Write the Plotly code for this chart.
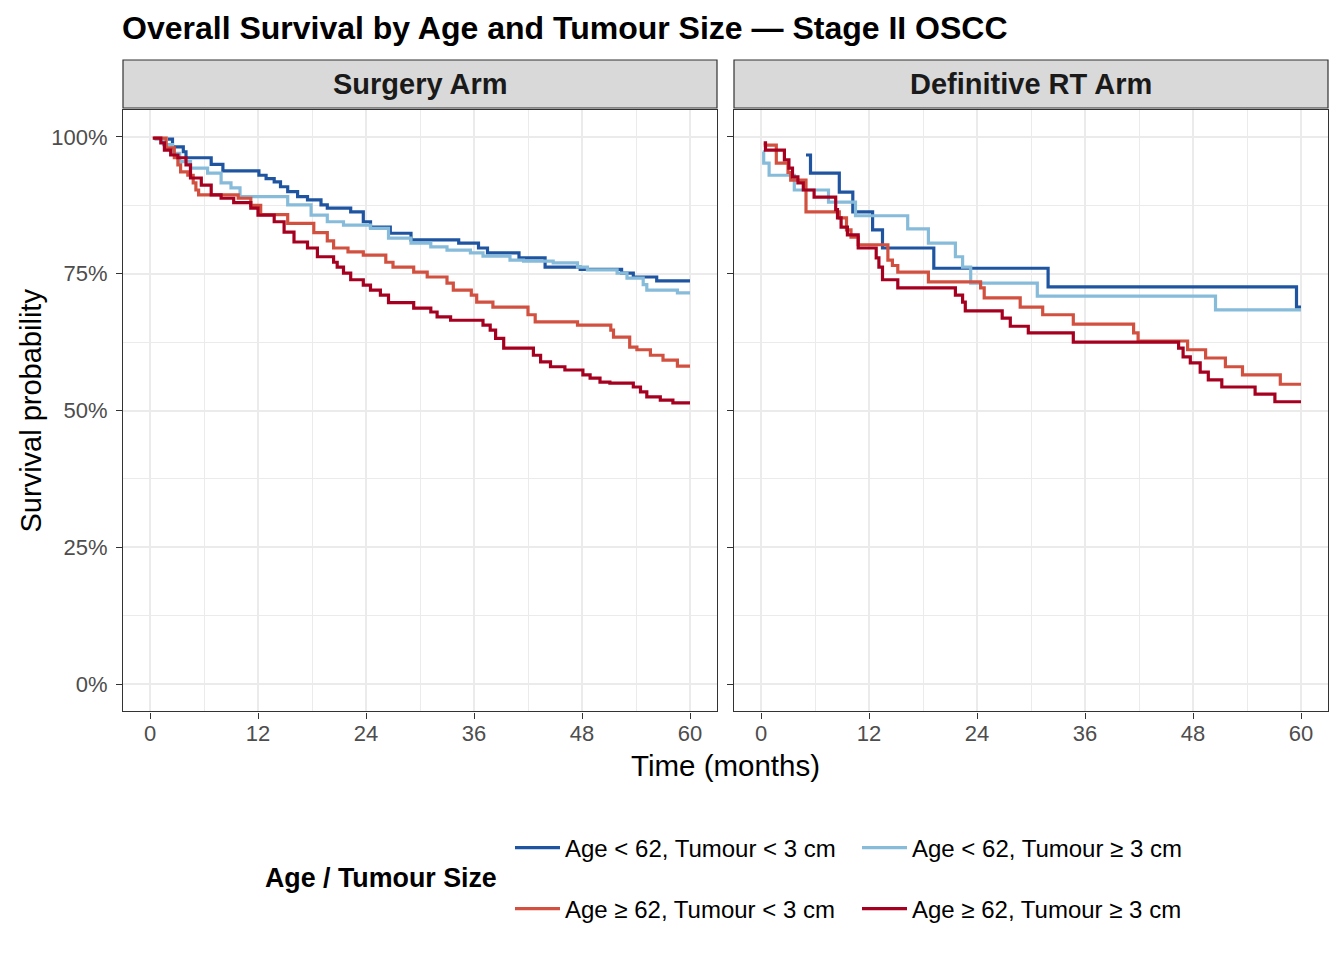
import plotly.graph_objects as go

W, H = 1344, 960
FONT = "Liberation Sans, Arial, Helvetica, sans-serif"

# ---------------- data (time in months, survival in %) ----------------
group_names = [
    "Age < 62, Tumour < 3 cm",
    "Age < 62, Tumour ≥ 3 cm",
    "Age ≥ 62, Tumour < 3 cm",
    "Age ≥ 62, Tumour ≥ 3 cm",
]
group_colors = ["#1F55A0", "#86BBDA", "#D2503F", "#A5001F"]
arm_names = ["Surgery Arm", "Definitive RT Arm"]

# Surgery arm
surg_young_small_t = [2.0, 2.5, 3.7, 4.0, 6.8, 8.1, 12.1, 12.9, 13.8, 14.5, 15.3, 16.4, 17.5, 19.0, 19.7,
                      22.3, 23.7, 24.5, 26.7, 29.0, 34.3, 36.5, 37.5, 41.0, 43.9, 47.8, 52.4, 53.7, 56.3, 60.0]
surg_young_small_s = [99.6, 98.2, 97.3, 96.2, 95.0, 93.8, 93.0, 92.4, 91.8, 90.9, 90.0, 89.1, 88.5, 87.6, 87.0,
                      86.3, 84.5, 83.5, 82.4, 81.2, 80.6, 79.7, 78.8, 77.9, 76.2, 75.8, 75.1, 74.4, 73.7, 73.7]

surg_young_large_t = [0.5, 1.5, 2.5, 3.3, 4.5, 6.4, 7.9, 9.0, 10.0, 15.3, 17.9, 19.7, 21.5, 24.5, 26.5,
                      29.0, 31.2, 33.0, 35.6, 37.0, 40.0, 41.5, 44.8, 47.5, 48.6, 51.9, 53.0, 54.8, 55.2, 58.6, 60.0]
surg_young_large_s = [99.6, 98.6, 97.0, 95.5, 94.3, 93.4, 91.6, 90.7, 89.1, 87.6, 85.7, 84.5, 83.9, 83.3, 81.5,
                      80.6, 79.9, 79.3, 78.8, 78.2, 77.5, 77.3, 77.0, 76.2, 75.7, 75.1, 74.2, 73.0, 72.0, 71.5, 71.5]

surg_old_small_t = [0.4, 1.8, 2.7, 3.1, 3.4, 4.2, 4.8, 5.1, 5.4, 9.8, 11.2, 12.3, 15.3, 18.2, 19.7, 20.4,
                    22.0, 23.7, 26.2, 27.0, 29.3, 30.8, 33.0, 33.7, 35.7, 36.3, 38.1, 42.0, 42.8, 47.5,
                    51.2, 51.5, 53.3, 54.1, 55.6, 57.0, 58.6, 60.0]
surg_old_small_s = [99.8, 98.0, 96.2, 94.9, 93.6, 93.0, 91.6, 90.3, 89.4, 88.8, 87.5, 85.8, 84.2, 82.5, 81.0, 79.7,
                    79.0, 78.4, 77.1, 76.2, 75.3, 74.4, 73.3, 72.0, 71.1, 69.8, 68.9, 67.5, 66.2, 65.6,
                    64.7, 63.4, 61.6, 61.1, 60.1, 59.2, 58.1, 58.1]

surg_old_large_t = [0.3, 1.2, 1.6, 2.3, 3.1, 4.0, 4.5, 5.7, 6.8, 7.9, 9.3, 11.2, 12.0, 13.8, 14.9, 16.0,
                    17.5, 18.6, 20.4, 20.8, 21.5, 22.3, 23.7, 24.5, 25.6, 26.5, 29.3, 31.2, 31.9, 33.4,
                    37.0, 37.8, 38.4, 39.3, 42.6, 43.4, 44.5, 46.1, 48.1, 48.9, 50.0, 51.1, 53.7, 54.5,
                    55.2, 56.7, 58.1, 60.0]
surg_old_large_s = [99.8, 98.9, 97.6, 96.7, 96.2, 94.9, 92.5, 91.2, 89.4, 88.8, 88.0, 87.0, 85.7, 84.5, 82.6, 80.8,
                    79.7, 78.1, 77.1, 76.2, 75.1, 73.9, 72.9, 72.0, 71.1, 69.7, 68.7, 68.0, 67.1, 66.5,
                    65.6, 64.7, 63.2, 61.4, 60.1, 58.9, 58.0, 57.4, 56.5, 55.9, 55.2, 55.0, 54.3, 53.4,
                    52.5, 51.9, 51.4, 51.4]

# Definitive RT arm
rt_young_small_t = [5.0, 5.5, 8.7, 10.2, 12.4, 13.5, 19.2, 31.9, 59.5, 60.0]
rt_young_small_s = [96.7, 93.4, 89.9, 86.3, 83.0, 79.7, 76.0, 72.6, 68.9, 68.9]

rt_young_large_t = [0.2, 0.3, 0.9, 3.7, 7.5, 10.5, 16.3, 18.6, 21.6, 22.4, 23.3, 30.7, 50.5, 60.0]
rt_young_large_s = [97.3, 95.2, 93.0, 90.3, 88.1, 85.6, 83.2, 80.6, 78.1, 76.2, 73.3, 70.9, 68.4, 68.4]

rt_old_small_t = [0.3, 1.7, 3.0, 3.3, 5.0, 8.7, 9.5, 10.0, 10.8, 14.1, 14.6, 15.2, 18.6, 24.4, 24.8,
                  28.8, 31.3, 34.7, 41.4, 41.9, 47.4, 49.4, 51.6, 53.5, 57.7, 60.0]
rt_old_small_s = [98.5, 95.2, 93.5, 92.1, 86.3, 85.2, 83.0, 81.7, 80.3, 77.5, 76.5, 75.3, 73.5, 72.4, 70.6,
                  68.9, 67.5, 65.8, 64.2, 62.7, 61.1, 59.6, 58.0, 56.5, 54.8, 54.8]

rt_old_large_t = [0.3, 0.5, 2.6, 3.1, 3.5, 4.1, 4.7, 5.9, 8.3, 8.5, 8.9, 9.6, 10.8, 12.8, 13.1, 13.5,
                  15.2, 21.6, 22.4, 22.7, 26.8, 27.7, 29.7, 34.7, 46.4, 46.9, 47.7, 48.8, 49.7, 51.2,
                  54.9, 57.1, 60.0]
rt_old_large_s = [98.9, 97.6, 95.8, 94.3, 92.7, 91.6, 90.3, 89.0, 86.7, 85.2, 83.5, 82.1, 79.7, 77.9, 76.2, 73.9,
                  72.4, 71.1, 69.8, 68.2, 66.9, 65.4, 64.2, 62.5, 61.4, 59.8, 58.7, 57.0, 55.6, 54.3,
                  53.0, 51.6, 51.6]

x_ticks = [0, 12, 24, 36, 48, 60]
y_ticks = [0, 25, 50, 75, 100]
y_tick_labels = ["0%", "25%", "50%", "75%", "100%"]

surgery_curves = [(surg_young_small_t, surg_young_small_s), (surg_young_large_t, surg_young_large_s),
                  (surg_old_small_t, surg_old_small_s), (surg_old_large_t, surg_old_large_s)]
rt_curves = [(rt_young_small_t, rt_young_small_s), (rt_young_large_t, rt_young_large_s),
             (rt_old_small_t, rt_old_small_s), (rt_old_large_t, rt_old_large_s)]

# ---------------- layout geometry (pixels) ----------------
def px_x(p):
    return p / W

def px_y(p):
    return 1 - p / H

panels = [(123, 717), (734, 1328)]
panel_top, panel_bottom = 109.6, 711.4
strip_top, strip_bottom = 60, 108

fig = go.Figure()

for arm_idx, curves in enumerate([surgery_curves, rt_curves]):
    xa = "x" if arm_idx == 0 else "x2"
    ya = "y" if arm_idx == 0 else "y2"
    for g, (t, s) in enumerate(curves):
        fig.add_trace(go.Scatter(
            x=t, y=s, mode="lines", line=dict(shape="hv", color=group_colors[g], width=3.2),
            name=group_names[g], xaxis=xa, yaxis=ya,
            showlegend=(arm_idx == 0),
            legend="legend" if g < 2 else "legend2",
            hoverinfo="skip",
        ))

axis_common = dict(
    showline=True, mirror=True, linecolor="#333333", linewidth=1.2,
    showgrid=True, gridcolor="#EBEBEB", gridwidth=1.8,
    zeroline=False, ticks="outside", ticklen=6, tickwidth=1.3, tickcolor="#333333",
    tickfont=dict(family=FONT, size=22, color="#4D4D4D"),
    automargin=False,
)

for i, (x0, x1) in enumerate(panels):
    xkey = "xaxis" if i == 0 else "xaxis2"
    ykey = "yaxis" if i == 0 else "yaxis2"
    fig.update_layout({
        xkey: dict(
            domain=[px_x(x0), px_x(x1)], range=[-3, 63], anchor="y" if i == 0 else "y2",
            tickmode="array", tickvals=x_ticks, ticktext=[str(v) for v in x_ticks],
            ticklabelstandoff=-4,
            minor=dict(tickmode="array", tickvals=[6, 18, 30, 42, 54], showgrid=True,
                       gridcolor="#EBEBEB", gridwidth=0.9, ticks=""),
            **axis_common),
        ykey: dict(
            domain=[px_y(panel_bottom), px_y(panel_top)], range=[-5, 105],
            anchor="x" if i == 0 else "x2",
            tickmode="array", tickvals=y_ticks, ticktext=y_tick_labels,
            showticklabels=(i == 0), ticklabelstandoff=4,
            minor=dict(tickmode="array", tickvals=[12.5, 37.5, 62.5, 87.5], showgrid=True,
                       gridcolor="#EBEBEB", gridwidth=0.9, ticks=""),
            **axis_common),
    })

shapes = []
annotations = []
for i, (x0, x1) in enumerate(panels):
    shapes.append(dict(type="rect", xref="paper", yref="paper",
                       x0=px_x(x0), x1=px_x(x1), y0=px_y(strip_bottom), y1=px_y(strip_top),
                       fillcolor="#D9D9D9", line=dict(color="#333333", width=1.2), layer="above"))
    annotations.append(dict(text=arm_names[i], xref="paper", yref="paper",
                            x=px_x((x0 + x1) / 2), y=px_y((strip_top + strip_bottom) / 2),
                            xanchor="center", yanchor="middle", showarrow=False,
                            font=dict(family=FONT, size=29, color="#1A1A1A", weight="bold")))

annotations.append(dict(text="Time (months)", xref="paper", yref="paper",
                        x=px_x((panels[0][0] + panels[1][1]) / 2), y=px_y(765),
                        xanchor="center", yanchor="middle", showarrow=False,
                        font=dict(family=FONT, size=29.5, color="#000000")))
annotations.append(dict(text="Survival probability", xref="paper", yref="paper",
                        x=px_x(30), y=px_y((panel_top + panel_bottom) / 2), textangle=-90,
                        xanchor="center", yanchor="middle", showarrow=False,
                        font=dict(family=FONT, size=29, color="#000000")))
annotations.append(dict(text="Age / Tumour Size", xref="paper", yref="paper",
                        x=px_x(263), y=px_y(878), xanchor="left", yanchor="middle", showarrow=False,
                        font=dict(family=FONT, size=26.8, color="#000000", weight="bold")))

legend_common = dict(
    orientation="h", xanchor="left", yanchor="middle", x=px_x(510),
    font=dict(family=FONT, size=24, color="#000000"),
    itemwidth=45, entrywidth=287, entrywidthmode="pixels", bgcolor="rgba(0,0,0,0)",
    itemclick=False, itemdoubleclick=False, traceorder="normal",
)

fig.update_layout(
    width=W, height=H,
    margin=dict(l=0, r=0, t=0, b=0),
    paper_bgcolor="white", plot_bgcolor="white",
    title=dict(text="Overall Survival by Age and Tumour Size — Stage II OSCC",
               x=px_x(122), xanchor="left", y=px_y(28), yanchor="middle",
               font=dict(family=FONT, size=32, color="#000000", weight="bold")),
    shapes=shapes, annotations=annotations,
    legend=dict(y=px_y(848), **legend_common),
    legend2=dict(y=px_y(909), **legend_common),
)

fig.write_html("out.html", config={"displayModeBar": False},
               post_script="document.body.style.margin='0';")
